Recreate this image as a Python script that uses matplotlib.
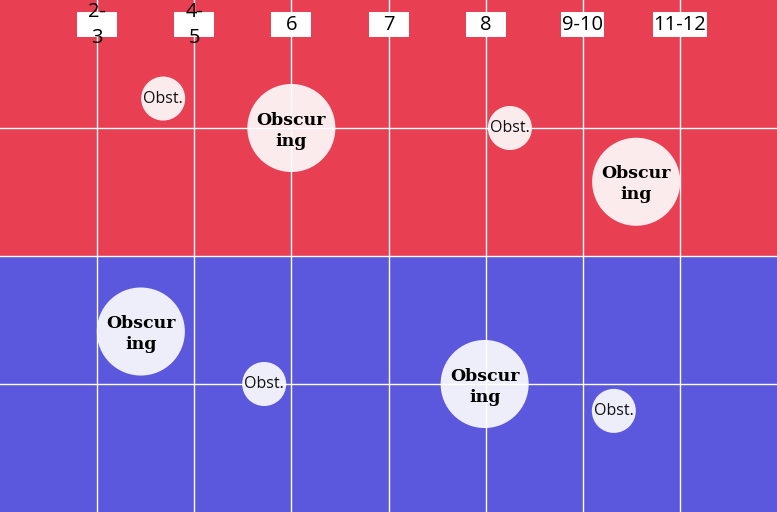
import matplotlib
matplotlib.use("Agg")
import matplotlib.pyplot as plt
from matplotlib.patches import Rectangle

# age groups along the top (one per vertical grid line)
age_groups = ["2-\n3", "4-\n5", "6", "7", "8", "9-10", "11-12"]

# bubbles: position, size class (1 small, 2 big) and label
bubble_x = [1.68, 3.00, 5.25, 6.55, 1.45, 2.72, 4.99, 6.32]
bubble_y = [3.23, 3.00, 3.00, 2.58, 1.41, 1.00, 1.00, 0.79]
bubble_size = [1, 2, 1, 2, 2, 1, 2, 1]
bubble_label = ["Obst.", "Obscur\ning", "Obst.", "Obscur\ning",
                "Obscur\ning", "Obst.", "Obscur\ning", "Obst."]

red = "#e83f53"
blue = "#5c58de"

fig = plt.figure(figsize=(7.77, 5.12), dpi=100)
ax = fig.add_axes([0, 0, 1, 1])
ax.set_xlim(0, 8)
ax.set_ylim(0, 4)

ax.axhspan(2, 4, color=red, lw=0, zorder=0)
ax.axhspan(0, 2, color=blue, lw=0, zorder=0)

ax.set_xticks(range(1, 8))
ax.set_yticks([1, 2, 3])
ax.grid(True, color="white", lw=1)
ax.set_axisbelow(False)
ax.tick_params(length=0, labelbottom=False, labelleft=False)
for s in ax.spines.values():
    s.set_visible(False)

# bubbles
sizes = [1005 if b == 1 else 4020 for b in bubble_size]
ax.scatter(bubble_x, bubble_y, s=sizes, color="white", alpha=0.9,
           lw=0, zorder=2)
for x, y, b, lab in zip(bubble_x, bubble_y, bubble_size, bubble_label):
    if b == 1:
        ax.text(x, y, lab, ha="center", va="center", fontsize=11.5,
                family="Open Sans", color="#111111", zorder=4)
    else:
        ax.text(x, y - 0.02, lab, ha="center", va="center", fontsize=12.5,
                family="DejaVu Serif", weight="heavy", color="black",
                linespacing=1.3, zorder=4)

# top labels with white boxes
ytop = 1 - 25 / 512
texts = []
for i, lab in enumerate(age_groups):
    t = ax.text(i + 1, ytop, lab, ha="center", va="center", fontsize=14.5,
                family="Open Sans", color="black", linespacing=1.45,
                transform=ax.get_xaxis_transform(), zorder=6)
    texts.append(t)

fig.canvas.draw()
r = fig.canvas.get_renderer()
H = 512
W = 777
for i, t in enumerate(texts):
    bb = t.get_window_extent(r)
    w = bb.width if "\n" not in t.get_text() else 0
    w = max(40, w + 2)
    cx = ax.transData.transform((i + 1, 0))[0]
    x0 = (cx - w / 2) / W
    ax.add_patch(Rectangle((x0, 1 - 37 / H), w / W, 25 / H,
                           transform=ax.transAxes, color="white", lw=0,
                           zorder=5))

fig.savefig("out.png", dpi=100)
